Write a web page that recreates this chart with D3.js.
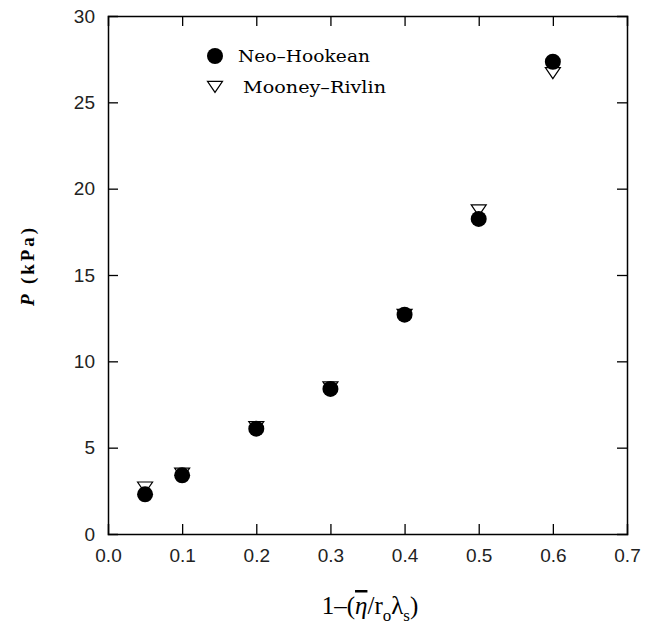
<!DOCTYPE html>
<html>
<head>
<meta charset="utf-8">
<script src="https://cdn.jsdelivr.net/npm/d3@7"></script>
<style>
  body { margin: 0; background: #fff; }
  .tick text { font-family: "Liberation Sans", Arial, sans-serif; font-size: 19px; fill: #222; }
</style>
</head>
<body>
<div id="chart"></div>
<script>
// data
const strain = [0.05, 0.1, 0.2, 0.3, 0.4, 0.5, 0.6];
const neoHookean = [2.3, 3.4, 6.1, 8.4, 12.7, 18.25, 27.35];
const mooneyRivlin = [2.8, 3.6, 6.3, 8.6, 12.8, 18.85, 26.8];
const xTicks = [0, 0.1, 0.2, 0.3, 0.4, 0.5, 0.6, 0.7];
const yTicks = [0, 5, 10, 15, 20, 25, 30];

const W = 652, H = 633;
const plotL = 108, plotR = 627, plotT = 16, plotB = 534;

const svg = d3.select("#chart")
    .append("svg")
    .attr("width", W)
    .attr("height", H);

const x = d3.scaleLinear().domain([0, 0.7]).range([plotL, plotR]);
const y = d3.scaleLinear().domain([0, 30]).range([plotB, plotT]);

// frame with inward ticks on all four sides
svg.append("g")
    .attr("transform", `translate(0,${plotB})`)
    .call(d3.axisBottom(x).tickValues(xTicks).tickSize(-10).tickPadding(15).tickFormat(d3.format(".1f")));
svg.append("g")
    .attr("transform", `translate(0,${plotT})`)
    .call(d3.axisTop(x).tickValues(xTicks).tickSize(-10).tickFormat(""));
svg.append("g")
    .attr("transform", `translate(${plotL},0)`)
    .call(d3.axisLeft(y).tickValues(yTicks).tickSize(-10).tickPadding(13));
svg.append("g")
    .attr("transform", `translate(${plotR},0)`)
    .call(d3.axisRight(y).tickValues(yTicks).tickSize(-10).tickFormat(""));

svg.selectAll(".domain").attr("stroke", "#000").attr("stroke-width", 1.5);
svg.selectAll(".tick line").attr("stroke", "#000").attr("stroke-width", 1.3);
svg.selectAll(".tick text").attr("fill", "#222");

// hide end ticks overlapping the frame
svg.selectAll(".tick").filter(d => d === 0 || d === 0.7 || d === 30).select("line").remove();

const pts = strain.map((s, i) => ({s: s, neo: neoHookean[i], mr: mooneyRivlin[i]}));

// down triangle, centred on its centroid
function downTri(cx, cy, w, h) {
  const p = d3.path();
  p.moveTo(cx - w / 2, cy - h / 3);
  p.lineTo(cx + w / 2, cy - h / 3);
  p.lineTo(cx, cy + 2 * h / 3);
  p.closePath();
  return p.toString();
}

svg.selectAll(".mr")
    .data(pts)
    .enter()
    .append("path")
    .attr("class", "mr")
    .attr("d", d => downTri(x(d.s), y(d.mr), 15, 11))
    .attr("fill", "#fff")
    .attr("stroke", "#000")
    .attr("stroke-width", 1.2);

svg.selectAll(".neo")
    .data(pts)
    .enter()
    .append("circle")
    .attr("class", "neo")
    .attr("cx", d => x(d.s))
    .attr("cy", d => y(d.neo))
    .attr("r", 8)
    .attr("fill", "#000");

// legend
const legFont = "'DejaVu Serif', 'Liberation Serif', serif";
svg.append("circle").attr("cx", 215).attr("cy", 56).attr("r", 8).attr("fill", "#000");
svg.append("text").attr("x", 238).attr("y", 62)
    .style("font-family", legFont).style("font-size", "17px")
    .attr("textLength", 132).attr("lengthAdjust", "spacingAndGlyphs")
    .text("Neo\u2013Hookean");
svg.append("path").attr("d", downTri(215, 85, 15, 11))
    .attr("fill", "#fff").attr("stroke", "#000").attr("stroke-width", 1.2);
svg.append("text").attr("x", 243).attr("y", 93)
    .style("font-family", legFont).style("font-size", "17px")
    .attr("textLength", 143).attr("lengthAdjust", "spacingAndGlyphs")
    .text("Mooney\u2013Rivlin");

// y label
const yl = svg.append("text")
    .attr("transform", "translate(34,267) rotate(-90)")
    .attr("text-anchor", "middle")
    .style("font-family", "'Liberation Serif', serif")
    .style("font-size", "19px")
    .style("font-weight", "bold")
    .attr("textLength", 78).attr("lengthAdjust", "spacing");
yl.append("tspan").style("font-style", "italic").text("P");
yl.append("tspan").text(" (kPa)");

// x label
const xl = svg.append("text")
    .attr("x", 370).attr("y", 614)
    .attr("text-anchor", "middle")
    .style("font-family", "'Liberation Serif', serif")
    .style("font-size", "25px");
xl.append("tspan").text("1\u2013(");
xl.append("tspan").style("font-style", "italic").style("text-decoration", "overline").text("\u03B7");
xl.append("tspan").text("/r");
xl.append("tspan").attr("dy", 7).style("font-size", "17px").text("o");
xl.append("tspan").attr("dy", -7).text("\u03BB");
xl.append("tspan").attr("dy", 7).style("font-size", "17px").text("s");
xl.append("tspan").attr("dy", -7).text(")");
</script>
</body>
</html>
